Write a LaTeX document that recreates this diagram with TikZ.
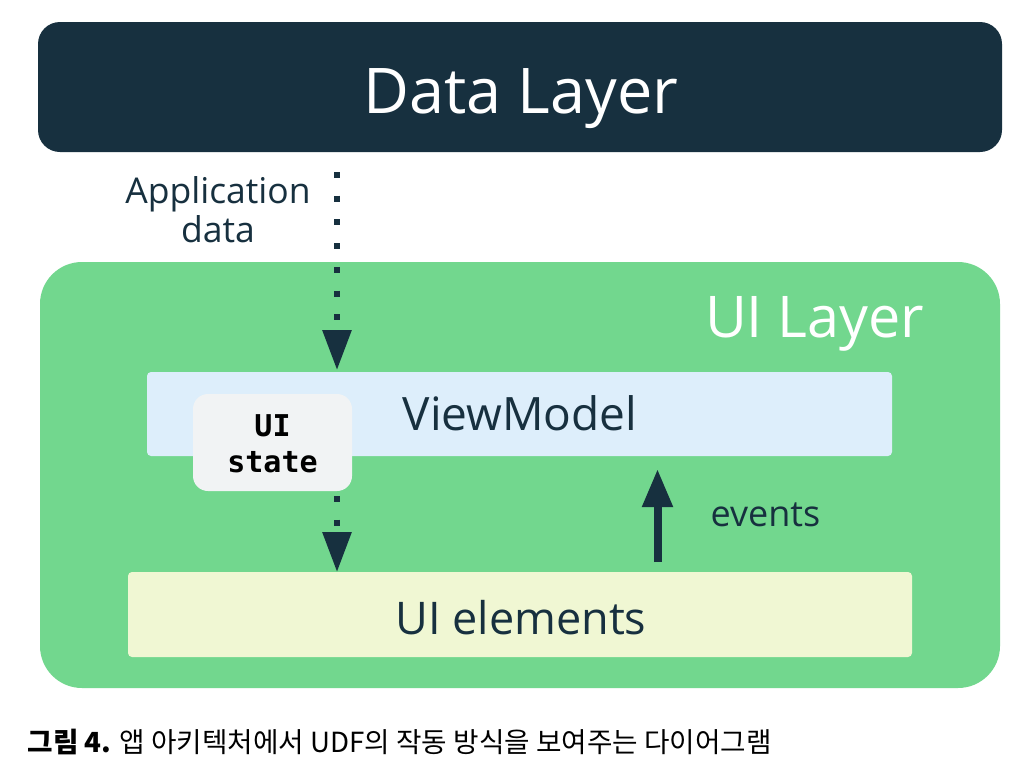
\documentclass[tikz,border=0pt]{standalone}
\usepackage{fontspec}
\setmainfont{Open Sans}
\newfontfamily\kr{Noto Sans CJK KR}
\newfontfamily\monob{DejaVu Sans Mono}
\usetikzlibrary{arrows.meta}
\definecolor{navy}{HTML}{17303F}
\definecolor{uigreen}{HTML}{72D78E}
\definecolor{vmblue}{HTML}{DDEEFB}
\definecolor{stategray}{HTML}{F1F3F4}
\definecolor{elyellow}{HTML}{F0F7D3}
\tikzset{
  box/.style={inner sep=0pt, outer sep=0pt},
  dotline/.style={draw=navy, line width=6pt, dash pattern=on 6pt off 17.7pt,
    -{Triangle[length=40pt,width=28pt,fill=navy]}},
  evarrow/.style={draw=navy, line width=8pt, -{Triangle[length=38pt,width=29pt,fill=navy]}}
}
\begin{document}
\begin{tikzpicture}[x=1pt,y=-1pt]
\useasboundingbox (0,0) rectangle (1036,766);
\fill[white] (0,0) rectangle (1036,766);
% boxes
\node[box, fill=navy, rounded corners=22pt, minimum width=964pt, minimum height=130pt] (data) at (520,87) {};
\node[box, fill=uigreen, rounded corners=42pt, minimum width=960pt, minimum height=426pt] (uilayer) at (520,475) {};
\node[box, fill=vmblue, rounded corners=4pt, minimum width=745pt, minimum height=84pt] (vm) at (519.5,414) {};
\node[box, fill=elyellow, rounded corners=4pt, minimum width=784pt, minimum height=85pt] (el) at (520,614.5) {};
\node[box, fill=stategray, rounded corners=15pt, minimum width=159pt, minimum height=97pt] (state) at (272.5,442.5) {};
% texts
\node[anchor=base, text=white, font=\fontsize{63}{70}\selectfont] (datat) at (521,113) {Data Layer};
\node[anchor=base east, text=white, font=\fontsize{57.5}{62}\selectfont] (uit) at (928,337) {UI Layer};
\node[anchor=base, text=navy, font=\fontsize{46}{50}\selectfont] (vmt) at (520,430) {ViewModel};
\node[anchor=base, text=navy, font=\fontsize{45}{50}\selectfont] (elt) at (521,634) {UI elements};
\node[anchor=base west, text=navy, font=\fontsize{36}{40}\selectfont] (evt) at (707,526) {events};
\node[anchor=base, text=navy, font=\fontsize{35.5}{40}\selectfont] (appt) at (218,203) {Application};
\node[anchor=base, text=navy, font=\fontsize{35.5}{40}\selectfont] (appt2) at (218,242) {data};
\node[anchor=base, text=black, font=\monob\bfseries\fontsize{30}{36}\selectfont] (st1) at (272.5,436) {UI};
\node[anchor=base, text=black, font=\monob\bfseries\fontsize{30}{36}\selectfont] (st2) at (272.5,472) {state};
\node[anchor=base west, text=black, font=\kr\fontsize{27.7}{30}\selectfont] (cap) at (24,752) {{\bfseries 그림 4.} 앱 아키텍처에서 UDF의 작동 방식을 보여주는 다이어그램};
% connectors
\coordinate (s1) at (337,172);
\coordinate (e1) at (337,370);
\draw[dotline] (s1) -- (e1);
\coordinate (s2) at (337,496);
\coordinate (e2) at (337,572);
\draw[dotline] (s2) -- (e2);
\coordinate (s3) at (657.5,562);
\coordinate (e3) at (657.5,469);
\draw[evarrow] (s3) -- (e3);
\end{tikzpicture}
\end{document}
